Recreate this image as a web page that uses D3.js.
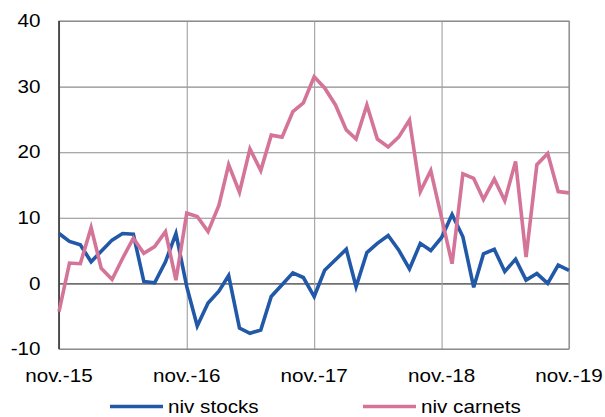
<!DOCTYPE html>
<html>
<head>
<meta charset="utf-8">
<script src="https://d3js.org/d3.v7.min.js"></script>
<style>
    body { margin: 0; background: #fff; }
    svg text { font-family: "Liberation Sans", Arial, sans-serif; font-size: 17.5px; fill: #000; }
</style>
</head>
<body>
<svg id="chart" width="605" height="417"></svg>
<script>
// monthly points, nov-15 .. nov-19
var startMonth = new Date(2015, 10, 1);
var endMonth = new Date(2019, 10, 1);

var nivStocks = [
    7.6, 6.4, 5.9, 3.3, 4.9, 6.6, 7.6, 7.5, 0.3, 0.1, 3.3, 7.6,
    -0.5, -6.5, -3.0, -1.2, 1.2, -6.8, -7.6, -7.1, -2.0, -0.2, 1.6, 0.9,
    -2.0, 2.0, 3.6, 5.2, -0.5, 4.7, 6.1, 7.3, 5.1, 2.2, 6.1, 5.0,
    7.0, 10.5, 7.1, -0.6, 4.5, 5.2, 1.8, 3.7, 0.5, 1.5, 0.0, 2.8,
    2.0
];

var nivCarnets = [
    -4.3, 3.1, 3.0, 8.5, 2.3, 0.6, 3.8, 6.9, 4.6, 5.6, 7.9, 0.5,
    10.7, 10.2, 7.9, 11.9, 18.1, 13.9, 20.5, 17.2, 22.6, 22.3, 26.2, 27.5,
    31.5, 29.8, 27.2, 23.4, 22.0, 27.2, 22.0, 20.8, 22.3, 24.9, 14.0, 17.2,
    10.0, 3.0, 16.7, 16.0, 12.8, 15.9, 12.6, 18.6, 4.0, 18.1, 19.8, 14.0,
    13.8
];

var yTicks = [-10, 0, 10, 20, 30, 40];
var xTickLabels = ["nov.-15", "nov.-16", "nov.-17", "nov.-18", "nov.-19"];
var seriesNames = ["niv stocks", "niv carnets"];
var seriesColors = ["#2159a8", "#d47498"];

var textStretch = 1.18;

var svg = d3.select("#chart");
var margin = { left: 59, right: 36, top: 21, bottom: 68 };
var width = 605 - margin.left - margin.right;
var height = 417 - margin.top - margin.bottom;

var months = d3.timeMonth.range(startMonth, d3.timeMonth.offset(endMonth, 1));
var yearTicks = months.filter(function(d, i) { return i % 12 == 0; });

var x = d3.scaleTime().domain([startMonth, endMonth]).range([0, width]);
var y = d3.scaleLinear().domain([-10, 40]).range([height, 0]);

var g = svg.append("g").attr("transform", "translate(" + margin.left + "," + margin.top + ")");

// horizontal grid
g.append("g")
    .call(d3.axisLeft(y).tickValues(yTicks).tickSize(-width).tickFormat(""))
    .call(function(s) { s.select(".domain").remove(); })
    .selectAll("line")
    .attr("stroke", function(d) { return d == 0 ? "#707070" : "#8c8c8c"; })
    .attr("stroke-width", function(d) { return d == 0 ? 1.6 : 1.1; });

// vertical grid at each november
g.append("g")
    .attr("transform", "translate(0," + height + ")")
    .call(d3.axisBottom(x).tickValues(yearTicks).tickSize(-height).tickFormat(""))
    .call(function(s) { s.select(".domain").remove(); })
    .selectAll("line")
    .attr("stroke", "#a0a0a0")
    .attr("stroke-width", 1.1);

// frame
g.append("rect")
    .attr("width", width).attr("height", height)
    .attr("fill", "none").attr("stroke", "#8c8c8c").attr("stroke-width", 1.1);
g.append("line")
    .attr("x1", 0).attr("x2", 0).attr("y1", 0).attr("y2", height)
    .attr("stroke", "#222").attr("stroke-width", 1.3);

function stretched(sel, px, py) {
    return sel.attr("transform", function(d, i) {
        return "translate(" + px(d, i) + "," + py(d, i) + ") scale(" + textStretch + ",1)";
    });
}

// y labels
g.selectAll(".ylab")
    .data(yTicks)
    .enter()
    .append("text")
    .attr("class", "ylab")
    .call(stretched, function() { return -18.5; }, function(d) { return y(d); })
    .attr("dy", "0.35em")
    .attr("text-anchor", "end")
    .text(function(d) { return d; });

// x labels
g.selectAll(".xlab")
    .data(yearTicks)
    .enter()
    .append("text")
    .attr("class", "xlab")
    .call(stretched, function(d) { return x(d); }, function() { return height + 27; })
    .attr("dy", "0.35em")
    .attr("text-anchor", "middle")
    .text(function(d, i) { return xTickLabels[i]; });

var line = d3.line()
    .x(function(d, i) { return x(months[i]); })
    .y(function(d) { return y(d); });

[nivStocks, nivCarnets].forEach(function(values, k) {
    g.append("path")
        .datum(values)
        .attr("fill", "none")
        .attr("stroke", seriesColors[k])
        .attr("stroke-width", 3.6)
        .attr("stroke-linejoin", "miter")
        .attr("d", line);
});

// legend
var legend = svg.append("g");
var legendX = [110, 363];
seriesNames.forEach(function(name, k) {
    legend.append("line")
        .attr("x1", legendX[k]).attr("x2", legendX[k] + 53)
        .attr("y1", 406.5).attr("y2", 406.5)
        .attr("stroke", seriesColors[k]).attr("stroke-width", 3.6);
    legend.append("text")
        .datum(name)
        .call(stretched, function() { return legendX[k] + 58; }, function() { return 406.5; })
        .attr("dy", "0.35em")
        .text(name);
});
</script>
</body>
</html>
